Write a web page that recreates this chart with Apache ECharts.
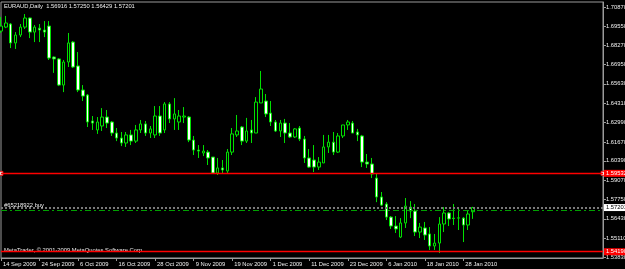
<!DOCTYPE html>
<html>
<head>
<meta charset="utf-8">
<script src="https://cdn.jsdelivr.net/npm/echarts@6/dist/echarts.min.js"></script>
<style>
html, body { margin: 0; padding: 0; background: #000; }
#chart { width: 625px; height: 269px; }
</style>
</head>
<body>
<div id="chart"></div>
<script>
// EURAUD daily bars, 14 Sep 2009 .. 1 Feb 2010
const dates = [
    '14 Sep 2009', '15 Sep 2009', '16 Sep 2009', '17 Sep 2009', '18 Sep 2009', '21 Sep 2009', '22 Sep 2009', '23 Sep 2009',
    '24 Sep 2009', '25 Sep 2009', '28 Sep 2009', '29 Sep 2009', '30 Sep 2009', '1 Oct 2009', '2 Oct 2009', '5 Oct 2009',
    '6 Oct 2009', '7 Oct 2009', '8 Oct 2009', '9 Oct 2009', '12 Oct 2009', '13 Oct 2009', '14 Oct 2009', '15 Oct 2009',
    '16 Oct 2009', '19 Oct 2009', '20 Oct 2009', '21 Oct 2009', '22 Oct 2009', '23 Oct 2009', '26 Oct 2009', '27 Oct 2009',
    '28 Oct 2009', '29 Oct 2009', '30 Oct 2009', '2 Nov 2009', '3 Nov 2009', '4 Nov 2009', '5 Nov 2009', '6 Nov 2009',
    '9 Nov 2009', '10 Nov 2009', '11 Nov 2009', '12 Nov 2009', '13 Nov 2009', '16 Nov 2009', '17 Nov 2009', '18 Nov 2009',
    '19 Nov 2009', '20 Nov 2009', '23 Nov 2009', '24 Nov 2009', '25 Nov 2009', '26 Nov 2009', '27 Nov 2009', '30 Nov 2009',
    '1 Dec 2009', '2 Dec 2009', '3 Dec 2009', '4 Dec 2009', '7 Dec 2009', '8 Dec 2009', '9 Dec 2009', '10 Dec 2009',
    '11 Dec 2009', '14 Dec 2009', '15 Dec 2009', '16 Dec 2009', '17 Dec 2009', '18 Dec 2009', '21 Dec 2009', '22 Dec 2009',
    '23 Dec 2009', '24 Dec 2009', '28 Dec 2009', '29 Dec 2009', '30 Dec 2009', '31 Dec 2009', '4 Jan 2010', '5 Jan 2010',
    '6 Jan 2010', '7 Jan 2010', '8 Jan 2010', '11 Jan 2010', '12 Jan 2010', '13 Jan 2010', '14 Jan 2010', '15 Jan 2010',
    '18 Jan 2010', '19 Jan 2010', '20 Jan 2010', '21 Jan 2010', '22 Jan 2010', '25 Jan 2010', '26 Jan 2010', '27 Jan 2010',
    '28 Jan 2010', '29 Jan 2010', '1 Feb 2010'
];
const opens = [
    1.6923, 1.6950, 1.6971, 1.6842, 1.6896, 1.6950, 1.7012, 1.6916, 1.6943, 1.6930,
    1.6957, 1.6746, 1.6733, 1.6555, 1.6712, 1.6848, 1.6685, 1.6521, 1.6487, 1.6310,
    1.6249, 1.6276, 1.6337, 1.6303, 1.6228, 1.6194, 1.6160, 1.6215, 1.6173, 1.6249,
    1.6290, 1.6228, 1.6215, 1.6344, 1.6249, 1.6426, 1.6324, 1.6303, 1.6337, 1.6337,
    1.6180, 1.6112, 1.6092, 1.6098, 1.6064, 1.5955, 1.5990, 1.5969, 1.6098, 1.6215,
    1.6269, 1.6173, 1.6249, 1.6228, 1.6433, 1.6446, 1.6364, 1.6303, 1.6242, 1.6296,
    1.6228, 1.6201, 1.6262, 1.6187, 1.6058, 1.6044, 1.5996, 1.6024, 1.6133, 1.6166,
    1.6098, 1.6208, 1.6283, 1.6296, 1.6235, 1.6208, 1.6030, 1.6017, 1.5921, 1.5792,
    1.5744, 1.5655, 1.5594, 1.5519, 1.5615, 1.5723, 1.5696, 1.5553, 1.5581, 1.5540,
    1.5458, 1.5478, 1.5608, 1.5683, 1.5648, 1.5648, 1.5648, 1.5601, 1.56916
];
const closes = [
    1.6957, 1.6978, 1.6842, 1.6896, 1.6950, 1.7012, 1.6916, 1.6950, 1.6930, 1.6916,
    1.6739, 1.6733, 1.6555, 1.6712, 1.6842, 1.6678, 1.6521, 1.6480, 1.6303, 1.6296,
    1.6303, 1.6337, 1.6296, 1.6228, 1.6194, 1.6160, 1.6215, 1.6173, 1.6249, 1.6290,
    1.6228, 1.6256, 1.6344, 1.6228, 1.6426, 1.6324, 1.6358, 1.6344, 1.6344, 1.6180,
    1.6112, 1.6105, 1.6105, 1.6058, 1.5955, 1.5990, 1.5976, 1.6098, 1.6222, 1.6242,
    1.6173, 1.6242, 1.6228, 1.6439, 1.6528, 1.6358, 1.6303, 1.6242, 1.6296, 1.6228,
    1.6201, 1.6256, 1.6187, 1.6058, 1.5996, 1.5996, 1.6030, 1.6133, 1.6166, 1.6098,
    1.6208, 1.6283, 1.6303, 1.6228, 1.6215, 1.6030, 1.6017, 1.5949, 1.5792, 1.5737,
    1.5655, 1.5594, 1.5574, 1.5615, 1.5730, 1.5696, 1.5553, 1.5587, 1.5533, 1.5458,
    1.5478, 1.5608, 1.5683, 1.5642, 1.5645, 1.5650, 1.5601, 1.5676, 1.57201
];
const lows = [
    1.6910, 1.6943, 1.6807, 1.6801, 1.6882, 1.6937, 1.6875, 1.6848, 1.6848, 1.6882,
    1.6726, 1.6638, 1.6548, 1.6507, 1.6678, 1.6671, 1.6507, 1.6446, 1.6269, 1.6249,
    1.6222, 1.6242, 1.6262, 1.6208, 1.6173, 1.6139, 1.6133, 1.6146, 1.6160, 1.6228,
    1.6208, 1.6194, 1.6194, 1.6208, 1.6228, 1.6296, 1.6249, 1.6249, 1.6296, 1.6166,
    1.6078, 1.6058, 1.6071, 1.6010, 1.5949, 1.5942, 1.5955, 1.5955, 1.6078, 1.6201,
    1.6146, 1.6160, 1.6160, 1.6228, 1.6433, 1.6337, 1.6276, 1.6235, 1.6201, 1.6160,
    1.6194, 1.6194, 1.6173, 1.6024, 1.5990, 1.5962, 1.5976, 1.6024, 1.6092, 1.6078,
    1.6092, 1.6194, 1.6249, 1.6228, 1.6173, 1.5996, 1.5990, 1.5921, 1.5757, 1.5730,
    1.5635, 1.5574, 1.5547, 1.5512, 1.5581, 1.5648, 1.5526, 1.5512, 1.5499, 1.5431,
    1.5431, 1.5410, 1.5553, 1.5594, 1.5601, 1.5567, 1.5485, 1.5567, 1.56429
];
const highs = [
    1.7019, 1.7026, 1.6978, 1.6916, 1.6971, 1.7039, 1.7015, 1.6964, 1.6971, 1.6991,
    1.6991, 1.6750, 1.6739, 1.6726, 1.6910, 1.6855, 1.6780, 1.6555, 1.6494, 1.6344,
    1.6337, 1.6398, 1.6385, 1.6310, 1.6262, 1.6235, 1.6235, 1.6249, 1.6283, 1.6317,
    1.6310, 1.6276, 1.6412, 1.6412, 1.6439, 1.6439, 1.6466, 1.6385, 1.6405, 1.6344,
    1.6208, 1.6146, 1.6146, 1.6112, 1.6064, 1.6058, 1.6044, 1.6119, 1.6262, 1.6351,
    1.6276, 1.6331, 1.6317, 1.6473, 1.6651, 1.6494, 1.6446, 1.6317, 1.6317, 1.6324,
    1.6296, 1.6262, 1.6276, 1.6208, 1.6119, 1.6146, 1.6064, 1.6215, 1.6215, 1.6235,
    1.6228, 1.6283, 1.6317, 1.6310, 1.6256, 1.6215, 1.6085, 1.6058, 1.5955, 1.5826,
    1.5757, 1.5662, 1.5662, 1.5648, 1.5785, 1.5764, 1.5744, 1.5615, 1.5622, 1.5587,
    1.5540, 1.5655, 1.5723, 1.5689, 1.5744, 1.5717, 1.5655, 1.5703, 1.57250
];
const priceTicks = [1.5383, 1.5511, 1.5643, 1.5775, 1.5907, 1.6039, 1.6167, 1.6299,
    1.6431, 1.6563, 1.6695, 1.6827, 1.6955, 1.7087];
const takeProfit = 1.59532;
const stopLoss = 1.54190;
const bidPrice = 1.57201;
const orderPrice = 1.56985;
const orderLabel = '#65218922 buy';

const font = '"Liberation Sans", Arial, sans-serif';
const fs = 5.8;
const emptySlots = 27; // blank space to the right of the last bar
const cats = dates.concat(new Array(emptySlots).fill(''));
const candles = opens.map((o, i) => [o, closes[i], lows[i], highs[i]]);
const last = dates.length - 1;
const fmt = v => v.toFixed(5);
const showDate = (i, v) => i % 8 === 0 && v !== '';

function sideLabel(bg, fg) {
    return {
        show: true, position: 'end', distance: 1,
        formatter: p => fmt(p.value),
        color: fg, backgroundColor: bg, padding: [1, 3, 0, 2],
        fontSize: fs, fontFamily: font
    };
}

const chart = echarts.init(document.getElementById('chart'));
chart.setOption({
    animation: false,
    backgroundColor: '#000',
    grid: {
        left: 1, top: 2, right: 22, bottom: 11,
        outerBoundsMode: 'none',
        containLabel: false,
        show: true, borderColor: '#9a9a9a', borderWidth: 1, backgroundColor: '#000'
    },
    graphic: [{
        type: 'text', left: 4, top: 3,
        style: {
            text: 'EURAUD,Daily  ' + [opens[last], highs[last], lows[last], closes[last]].map(fmt).join(' '),
            fill: '#f0f0f0', font: fs + 'px ' + font
        }
    }, {
        type: 'text', left: 4, top: 247,
        style: {
            text: 'MetaTrader, \u00a9 2001-2009 MetaQuotes Software Corp.',
            fill: '#f0f0f0', font: fs + 'px ' + font
        }
    }],
    xAxis: {
        type: 'category',
        data: cats,
        boundaryGap: false,
        axisLine: { lineStyle: { color: '#9a9a9a' } },
        axisTick: {
            length: 3,
            interval: showDate,
            lineStyle: { color: '#9a9a9a' }
        },
        axisLabel: {
            interval: showDate,
            showMinLabel: true,
            hideOverlap: false,
            align: 'left', margin: 3, padding: [0, 0, 0, 2],
            color: '#f0f0f0', fontSize: fs, fontFamily: font
        },
        splitLine: { show: false }
    },
    yAxis: {
        type: 'value',
        position: 'right',
        min: 1.53762,
        max: 1.71211,
        axisLine: { show: true, lineStyle: { color: '#9a9a9a' } },
        axisTick: { show: true, length: 3, customValues: priceTicks, lineStyle: { color: '#9a9a9a' } },
        axisLabel: {
            customValues: priceTicks, formatter: fmt, margin: 3,
            color: '#f0f0f0', fontSize: fs, fontFamily: font
        },
        splitLine: { show: false }
    },
    series: [{
        type: 'candlestick',
        data: candles,
        barWidth: 3,
        itemStyle: {
            color: '#000', color0: '#ffffff',
            borderColor: '#00e000', borderColor0: '#00e000', borderWidth: 1
        },
        markLine: {
            silent: true,
            symbol: 'none',
            precision: 5,
            data: [
                { yAxis: takeProfit, lineStyle: { color: '#ff0000', type: 'solid', width: 1.3 }, label: sideLabel('#ff0000', '#ffffff') },
                { yAxis: stopLoss, lineStyle: { color: '#ff0000', type: 'solid', width: 1.3 }, label: sideLabel('#ff0000', '#ffffff') },
                { yAxis: bidPrice, lineStyle: { color: '#7a7a7a', type: 'dotted', width: 2 }, label: sideLabel('#ffffff', '#000000') },
                {
                    yAxis: orderPrice,
                    lineStyle: { color: '#00a000', type: [6, 3, 2, 3], width: 1 },
                    label: {
                        show: true, position: 'insideStartTop', distance: [3, 2],
                        formatter: orderLabel, color: '#f0f0f0', fontSize: fs, fontFamily: font
                    }
                }
            ]
        }
    }, {
        // anchor points of the selected horizontal line
        type: 'scatter',
        clip: false,
        symbol: 'rect',
        symbolSize: 4,
        itemStyle: { color: '#ffffff', borderColor: '#ff0000', borderWidth: 1 },
        data: [[0, takeProfit], [cats.length - 1, takeProfit]]
    }]
});
</script>
</body>
</html>
